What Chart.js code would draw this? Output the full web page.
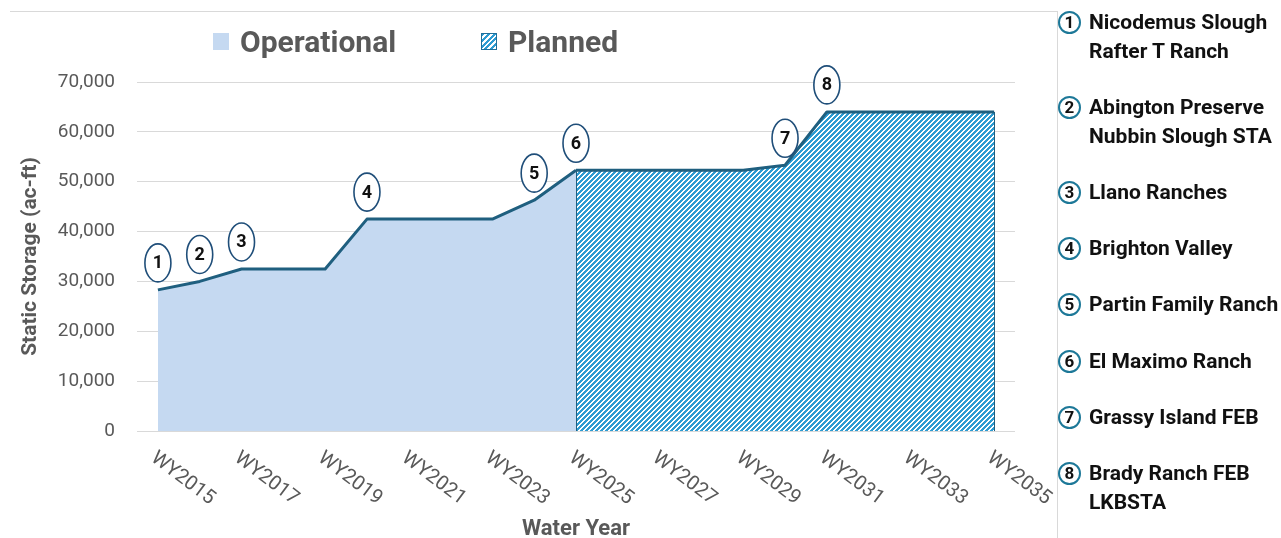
<!DOCTYPE html>
<html>
<head>
<meta charset="utf-8">
<script src="https://cdn.jsdelivr.net/npm/chart.js@4/dist/chart.umd.min.js"></script>
<style>
  html, body { margin: 0; padding: 0; background: #fff; }
  #wrap { position: relative; width: 1281px; height: 538px; overflow: hidden; font-family: Roboto, "Liberation Sans", sans-serif; }
  #c { position: absolute; left: 0; top: 0; }
  #frame { position: absolute; left: 10px; top: 11px; width: 1048px; height: 540px; border-top: 1px solid #d9d9d9; border-right: 1px solid #d9d9d9; box-sizing: border-box; }
  .lg { position: absolute; top: 21px; height: 40px; display: flex; align-items: center; font-weight: 700; font-size: 30px; color: #595959; }
  .lg .box { width: 16px; height: 17px; margin-right: 11px; box-sizing: border-box; }
  .item { position: absolute; left: 1058px; font-weight: 700; font-size: 21px; color: #111; line-height: 29px; }
  .item .num { position: absolute; left: 0px; top: 3px; width: 19px; height: 19px; border: 2.5px solid #1d7898; border-radius: 50%; font-size: 17px; line-height: 19px; text-align: center; color: #111; }
  .item .txt { margin-left: 31px; white-space: nowrap; }
</style>
</head>
<body>
<div id="wrap">
  <canvas id="c" width="1281" height="538"></canvas>
  <div id="frame"></div>
  <div class="lg" style="left:213px"><span class="box" style="background:#c5d9f1"></span>Operational</div>
  <div class="lg" style="left:481px"><span class="box" style="border:1px solid #1f6f9a;background:repeating-linear-gradient(135deg,#2d9bd2 0 2px,#fff 2px 4px)"></span>Planned</div>
  <div id="list"></div>
</div>
<script>
// ---- data ----
const years = ['WY2015','WY2016','WY2017','WY2018','WY2019','WY2020','WY2021','WY2022','WY2023','WY2024','WY2025',
               'WY2026','WY2027','WY2028','WY2029','WY2030','WY2031','WY2032','WY2033','WY2034','WY2035'];
const shownTicks = ['WY2015','WY2017','WY2019','WY2021','WY2023','WY2025','WY2027','WY2029','WY2031','WY2033','WY2035'];
const operational = [28300, 30000, 32500, 32500, 32500, 42500, 42500, 42500, 42500, 46300, 52300,
                     null, null, null, null, null, null, null, null, null, null];
const planned = [null, null, null, null, null, null, null, null, null, null, 52300,
                 52300, 52300, 52300, 52300, 53300, 64000, 64000, 64000, 64000, 64000];
const yTicks = [0, 10000, 20000, 30000, 40000, 50000, 60000, 70000];
const markerYears = ['WY2015','WY2016','WY2017','WY2020','WY2024','WY2025','WY2030','WY2031'];
const markerLabels = ['1','2','3','4','5','6','7','8'];
const projectNames = [
  ['Nicodemus Slough', 'Rafter T Ranch'],
  ['Abington Preserve', 'Nubbin Slough STA'],
  ['Llano Ranches'],
  ['Brighton Valley'],
  ['Partin Family Ranch'],
  ['El Maximo Ranch'],
  ['Grassy Island FEB'],
  ['Brady Ranch FEB', 'LKBSTA']
];

// ---- right-hand list ----
const listTops = [8, 93, 178, 234, 290, 347, 403, 459];
const list = document.getElementById('list');
projectNames.forEach((lines, i) => {
  const d = document.createElement('div');
  d.className = 'item';
  d.style.top = listTops[i] + 'px';
  d.innerHTML = '<span class="num">' + markerLabels[i] + '</span><div class="txt">' + lines.join('<br>') + '</div>';
  list.appendChild(d);
});

// ---- hatch pattern ----
function makeHatch() {
  const N = 5;
  const p = document.createElement('canvas');
  p.width = N; p.height = N;
  const g = p.getContext('2d');
  const img = g.createImageData(N, N);
  for (let y = 0; y < N; y++) for (let x = 0; x < N; x++) {
    const i = (y * N + x) * 4;
    const blue = ((x + y) % N) < 3;
    img.data[i] = blue ? 0x2d : 255;
    img.data[i+1] = blue ? 0x9b : 255;
    img.data[i+2] = blue ? 0xd2 : 255;
    img.data[i+3] = 255;
  }
  g.putImageData(img, 0, 0);
  return g.createPattern(p, 'repeat');
}
const hatch = makeHatch();

const GREY = '#595959';
const LINE = '#1f5f7f';
const FONT = 'Roboto, "Liberation Sans", sans-serif';

const extras = {
  id: 'extras',
  afterDatasetsDraw(chart) {
    const ctx = chart.ctx;
    const xs = chart.scales.x, ys = chart.scales.y;
    const i0 = planned.findIndex(v => v !== null);
    const i1 = planned.length - 1;
    ctx.save();
    ctx.strokeStyle = LINE;
    ctx.lineWidth = 1;
    [i0, i1].forEach(i => {
      const x = Math.round(xs.getPixelForValue(i)) + 0.5;
      ctx.beginPath();
      ctx.moveTo(x, ys.getPixelForValue(planned[i]));
      ctx.lineTo(x, ys.getPixelForValue(0));
      ctx.stroke();
    });
    markerYears.forEach((yr, k) => {
      const idx = years.indexOf(yr);
      const v = operational[idx] !== null ? operational[idx] : planned[idx];
      const x = xs.getPixelForValue(idx);
      const y = ys.getPixelForValue(v) - 27;
      ctx.beginPath();
      ctx.ellipse(x, y, 13, 19, 0, 0, Math.PI * 2);
      ctx.fillStyle = '#fff';
      ctx.fill();
      ctx.lineWidth = 1.6;
      ctx.strokeStyle = '#1f4e79';
      ctx.stroke();
      ctx.fillStyle = '#111';
      ctx.font = 'bold 18px ' + FONT;
      ctx.textAlign = 'center';
      ctx.textBaseline = 'middle';
      ctx.fillText(markerLabels[k], x, y + 1);
    });
    ctx.fillStyle = GREY;
    ctx.font = '20px ' + FONT;
    ctx.textAlign = 'left';
    ctx.textBaseline = 'top';
    shownTicks.forEach(t => {
      const x = xs.getPixelForValue(years.indexOf(t));
      ctx.save();
      ctx.translate(x + 1, 448);
      ctx.rotate(37 * Math.PI / 180);
      ctx.fillText(t, 0, 0);
      ctx.restore();
    });
    ctx.restore();
  }
};

new Chart(document.getElementById('c'), {
  type: 'line',
  data: {
    labels: years,
    datasets: [
      { label: 'Operational', data: operational, fill: 'origin', backgroundColor: '#c5d9f1',
        borderColor: LINE, borderWidth: 3, pointRadius: 0, tension: 0, borderJoinStyle: 'round' },
      { label: 'Planned', data: planned, fill: 'origin', backgroundColor: hatch,
        borderColor: LINE, borderWidth: 3, pointRadius: 0, tension: 0, borderJoinStyle: 'round' }
    ]
  },
  options: {
    responsive: false,
    animation: false,
    layout: { padding: { top: 82, right: 266, bottom: 0, left: 0 } },
    plugins: { legend: { display: false }, tooltip: { enabled: false } },
    scales: {
      x: {
        type: 'category',
        offset: true,
        grid: { display: false },
        border: { display: false },
        ticks: { display: false },
        title: { display: true, text: 'Water Year', color: GREY,
                 font: { family: FONT, size: 22, weight: 'bold', lineHeight: 0.75 },
                 padding: { top: 0, bottom: 0 } },
        afterFit(s) { s.height = 107; }
      },
      y: {
        min: 0, max: 70000,
        afterBuildTicks(s) { s.ticks = yTicks.map(v => ({ value: v })); },
        grid: { color: '#d9d9d9', lineWidth: 1, drawTicks: false },
        border: { display: false },
        ticks: { color: GREY, padding: 22, font: { family: FONT, size: 19 },
                 callback: v => v.toLocaleString('en-US') },
        title: { display: true, text: 'Static Storage (ac-ft)', color: GREY,
                 font: { family: FONT, size: 21, weight: 'bold', lineHeight: 1.2 },
                 padding: { top: 18, bottom: 0 } },
        afterFit(s) { s.width = 137; }
      }
    }
  },
  plugins: [extras]
});
</script>
</body>
</html>
